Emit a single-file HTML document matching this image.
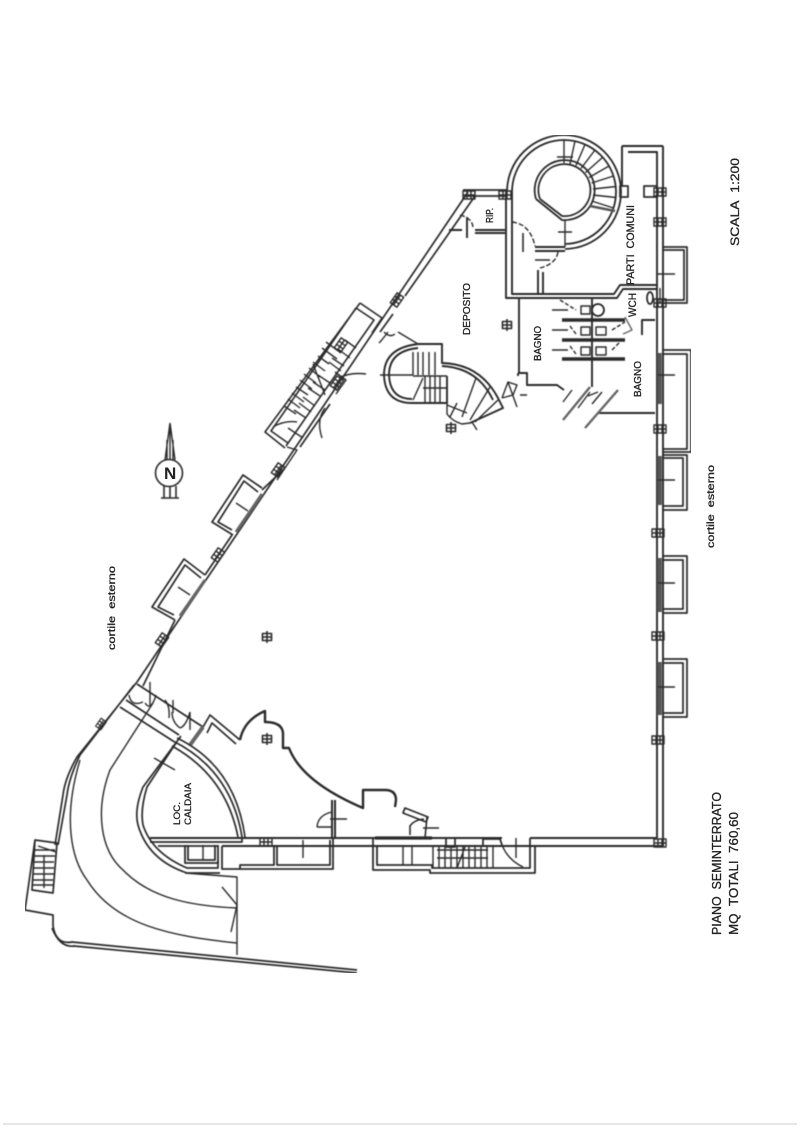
<!DOCTYPE html>
<html><head><meta charset="utf-8"><style>
html,body{margin:0;padding:0;background:#fff;width:800px;height:1131px;overflow:hidden}
svg{display:block}
text{font-family:"Liberation Sans",sans-serif;fill:#222;stroke:#222;stroke-width:.3}
</style></head><body>
<svg width="800" height="1131" viewBox="0 0 800 1131" xmlns="http://www.w3.org/2000/svg">
<defs><filter id="b" x="0" y="0" width="100%" height="100%"><feGaussianBlur stdDeviation="0.42"/></filter>
<g id="col"><path d="M-4.5-3.5H4.5V3.5H-4.5ZM0-6V6M-4.5 0H4.5"/></g>
<g id="pil"><path d="M-6-4H6V4H-6ZM-2-4V4M2-4V4M-6 0H6"/></g>
</defs>
<rect width="800" height="1131" fill="#fff"/>
<path d="M3 1124H797" stroke="#ddd" stroke-width="1.500"/>
<g filter="url(#b)" fill="none" stroke="#2b2b2b" stroke-width="1.400" stroke-linejoin="round">

<!-- right wall + bottom wall -->
<g stroke-width="1.900">
<path d="M657 288V838M663 146V846H222M657 838H530M502 838H150"/>
<path d="M622 146H663M622 146V186M628 152H657V288"/>
</g>
<!-- top diagonal wall -->
<g stroke-width="1.700">
<path d="M468 192 L137 682"/>
<path d="M475 196 L405 296M393 314 L380 332M330 404L300 447M283 470L262 490M232 535L205 575M175 620L143 686"/>
<path d="M463 190H507M465 196H507"/>
</g>
<!-- spiral stairs top -->
<g stroke-width="1.800">
<path d="M507 192A57 57 0 1 1 565 249"/>
<path d="M512 192A52 52 0 1 1 565 244"/>
<path d="M540 199A26 26 0 1 1 562 216L540 199"/>
<path d="M536 199A30 30 0 1 1 562 220L536 199"/>
</g>
<path d="M564 163V140M570 164L575 141M576 165.500L585 144.500M581 168.500L595 150M585.500 172.600L603 157M589 177.500L609 166M591.600 183L613.500 176M593 189L616 186.500M593 195L616 197.500M591.600 201L613.500 208"/>
<path d="M590 206L615 211" stroke-width="2.500" stroke="#555"/>
<path d="M557 157H573M565 220V247M558 232H572"/>
<path d="M620 186H628V197H620Z" stroke-width="1.700"/>
<path d="M644 186H657V197H644Z" stroke-width="1.700"/>
<use href="#pil" x="660" y="192"/><use href="#pil" x="660" y="222"/>
<use href="#pil" x="469" y="195"/><use href="#pil" x="505" y="195"/>
<!-- comuni partition -->
<g stroke-width="1.900">
<path d="M506 192V298H617L623 289H657"/>
<path d="M512 192V294H614L620 285H657"/>
<path d="M535 247H565M535 251H565M538 270V294M543 272V294"/>
<path d="M467 217V238M475 230H505M475 233H505M449 230H462"/>
</g>
<path d="M512 222Q530 224 535 246M558 252Q556 264 540 268M460 215Q472 218 473 227" stroke-dasharray="5 2"/>
<path d="M523 233V252M535 260H550" stroke-width="1.600"/>
<!-- bagno -->
<g stroke-width="1.900">
<path d="M519 298V373H527V385H557L564 390M518 373V376"/>
<path d="M592 298V387"/>
<path d="M598 413H655M642 335V320H655"/>
</g>
<path d="M562 320H625M562 340H625M562 359H625" stroke-width="3.400"/>
<path d="M563 420L590 387M585 428L618 390" stroke-width="2.400" stroke="#666"/>
<path d="M552 310H568M552 330H568M552 350H568M563 402L572 390M578 408L590 392M592 404L602 392M588 396L598 392"/>
<path d="M560 300L576 310M570 326L576 334M570 346L576 354M612 330L625 322M612 350L620 342" stroke-dasharray="4 2"/>
<path d="M581 306H590V314H581ZM581 327H590V335H581ZM581 347H590V355H581ZM596 327H606V335H596ZM596 347H606V355H596Z"/>
<circle cx="598" cy="310" r="6" stroke-width="1.800"/>
<ellipse cx="650" cy="298" rx="3" ry="6" stroke-width="1.800"/>
<path d="M625 317L632 330L623 334" stroke="#666"/>
<!-- balconies right -->
<g stroke-width="1.700">
<path d="M663 247H687V303H663M663 250H684V300H663"/>
<path d="M663 350H691V452H663M663 354H687V449H663"/>
<path d="M663 455H687V510H663M663 458H683V506H663"/>
<path d="M663 556H687V613H663M663 560H683V609H663"/>
<path d="M663 659H687V717H663M663 663H683V713H663"/>
</g>
<path d="M659.500 353V404M659.500 456V505M659.500 558V612M659.500 662V715" stroke="#555" stroke-width="4.500"/>
<path d="M658 274H675M658 375H675M658 480H675M658 583H675M658 687H675M660 288V303"/>
<use href="#pil" x="660" y="303"/><use href="#pil" x="660" y="429"/>
<use href="#pil" x="658" y="533"/><use href="#pil" x="658" y="636"/><use href="#pil" x="658" y="740"/><use href="#pil" x="660" y="843"/>
<!-- column symbols -->
<g stroke-width="1.600"><use href="#col" x="451" y="428"/><use href="#col" x="507" y="325"/><use href="#col" x="267" y="637"/><use href="#col" x="267" y="739"/></g>
<!-- interior stairs -->
<g stroke-width="1.900">
<path d="M418 344H442V363Q480 364 498 398L503 408L470 423"/>
<path d="M442 366Q478 368 493 400"/>
<path d="M418 344Q384 348 384 375Q385 403 412 403H447V376"/>
<path d="M418 348Q389 351 389 375Q390 399 412 399"/>
</g>
<path d="M380 375H413M413 352V375M418 352V375M423 352V375M429 352V375M435 352V375M413 376H447M425 376V402M430 376V402M435 376V402M440 376V402M423 388H447M423 378L413 400"/>
<path d="M447 402V414Q452 421 462 424L470 423M476 378L462 417M490 387L470 420M498 400L475 422M472 422L477 430M457 403L450 417M447 405L467 413"/>
<path d="M502 398L508 382L517 385L513 395L502 398M508 382L517 407M520 395H527"/>
<path d="M398 332L418 344M388 332Q382 340 379 343M384 332Q390 338 395 334"/>
<!-- left stair -->
<g stroke-width="1.600">
<path d="M360 303L382 318L372 333M356 308L374 320L286 446M360 303L265 432L285 448M356 308L271 431L288 443"/>
</g>
<path d="M326 342L341 353M322 348L337 359M345 340L356 348M338 349L350 358M332 358L344 366M329 362L341 371M318 356L329 364M313 362L325 371M309 368L320 377M304 374L316 383M318 375L330 383M313 382L325 390M308 388L320 396M300 380L312 389M296 387L308 395M292 393L304 402M303 397L315 406M299 403L311 412M288 399L300 408M284 406L296 414M294 410L306 418M313 364L325 395"/>
<path d="M339 378Q350 372 366 374M325 408Q316 420 322 438M273 427Q285 420 297 422M288 428L303 438"/>
<path d="M335 372L346 380L336 394M287 447L297 450L277 480"/>
<use href="#pil" transform="translate(337 383) rotate(-55)"/><use href="#pil" transform="translate(397 300) rotate(-55)"/>
<use href="#pil" transform="translate(278 470) rotate(-55)"/><use href="#pil" transform="translate(218 555) rotate(-55)"/><use href="#pil" transform="translate(162 640) rotate(-55)"/>
<use href="#pil" transform="translate(341 345) rotate(-55)"/>
<!-- windows on diagonal -->
<g stroke-width="1.700">
<path d="M262 488L243 475L212 522L233 535M258 492L244 481L218 522L232 530"/>
<path d="M205 575L184 559L152 607L175 620M201 578L185 565L158 607L174 615"/>
</g>
<path d="M262 494L236 532M205 580L180 616" stroke="#666" stroke-width="3"/>
<path d="M236 503L248 511M178 587L190 595"/>
<!-- north arrow -->
<circle cx="169" cy="473" r="13.500" stroke-width="1.600"/>
<path d="M170 423L165 460M170 423L175 460M170 423V460M167 440V460M173 440V460"/>
<path d="M164 486V498M176 486V498M170 486V498M161 498H179" stroke-width="1.600"/>
<!-- lower-left wall and arcs -->
<g stroke-width="1.700">
<path d="M137 684L203 727M120 707L173 741"/>
<path d="M126 700L179 735"/>
<path d="M203 727L210 715L240 740M207 733L212 723L236 744"/>
<path d="M240 740Q244 720 265 711V722Q282 722 283 733V748H289Q302 782 363 808V790H385Q396 790 396 800L395 807" stroke-width="2.400"/>
</g>
<path d="M203 727L190 745" stroke="#666" stroke-width="4"/>
<path d="M129 695Q131 707 143 702M145 703Q151 712 156 695M169 718Q170 706 165 700M180 728Q186 726 190 712M180 728Q172 722 172 712"/>
<path d="M150 682V705M173 700V713M190 712V730"/>
<path d="M405 808L428 817L426 822L403 813Z" stroke-width="1.700"/>
<path d="M427 817L425 838M423 828H439M410 835V826Q414 820 424 819" stroke-width="1.600"/>
<path d="M332 800V838M335 800V838" stroke-width="2"/>
<path d="M317 827H332M330 819H347M317 827Q318 815 332 812"/>
<!-- caldaia -->
<g stroke-width="1.700">
<path d="M173 741Q231 770 242 837"/>
<path d="M177 738Q235 766 245 837"/>
<path d="M172 746Q226 776 238 837"/>
<path d="M181 736L143 787Q134 810 138 825Q148 860 187 873H220"/>
<path d="M176 743L147 787Q140 810 143 825Q152 853 187 868H218V860"/>
<path d="M150 842H242V838M158 846H218"/>
</g>
<path d="M154 758L175 770"/>
<!-- rooms under bottom wall -->
<g stroke-width="1.800">
<path d="M185 845V863H218V845M188 845V860H215V845"/>
<path d="M222 846V869H240V865H274V846M240 869H333V838M277 846V865H330V840"/>
<path d="M373 838V870H430V873H535V845M377 847V865H432V868H530V838"/>
<path d="M483 839H500L502 845M483 839V845"/>
<path d="M446 838H455V847H446Z"/>
</g>
<path d="M375 838H432" stroke-width="3.200"/>
<path d="M203 845V860M303 840V858M403 847V865M412 847V865"/>
<path d="M437 850H488M437 858H488M433 847V868M439 847V868M445 847V868M451 847V868M457 847V868M463 847V868M469 847V868M475 847V868M481 847V868M487 847V868M493 847V868M465 847L457 868"/>
<path d="M502 845Q508 860 523 867M516 838V858"/>
<use href="#pil" x="266" y="842"/>
<!-- ramp & outer -->
<g stroke-width="1.400">
<path d="M185 873L237 877V955"/>
<path d="M153 703L110 770C95 810 100 850 123 870C150 898 190 906 237 908"/>
<path d="M80 760C62 820 72 860 87 880C115 925 170 936 237 943"/>
<path d="M222 887L237 905L231 932"/>
</g>
<g stroke-width="1.700">
<path d="M137 682L77 757Q65 778 63 795L55 845M134 685L80 755Q69 778 67 795L58 845"/>
<path d="M35 840L57 843L53 893L32 890L35 840ZM35 840L25 910L53 915V926Q56 945 72 942L357 970M52 928Q60 948 74 946L357 973"/>
</g>
<path d="M34 850H55M34 856H55M34 862H54M33 868H54M33 874H54M33 880H53M33 885H53M44 855V888M38 846L56 852"/>
<use href="#pil" transform="translate(101 724) rotate(-55) scale(.8)"/>
</g>
<g>
<text transform="translate(164 479)" font-size="17" font-weight="bold" style="stroke:none">N</text>
<text transform="translate(470 335) rotate(-90)" font-size="10" textLength="52" lengthAdjust="spacingAndGlyphs">DEPOSITO</text>
<text transform="translate(493 223) rotate(-90)" font-size="10" textLength="15" lengthAdjust="spacingAndGlyphs">RIP.</text>
<text transform="translate(541 361) rotate(-90)" font-size="10" textLength="35" lengthAdjust="spacingAndGlyphs">BAGNO</text>
<text transform="translate(641 397) rotate(-90)" font-size="10" textLength="36" lengthAdjust="spacingAndGlyphs">BAGNO</text>
<text transform="translate(636 317) rotate(-90)" font-size="11" textLength="24" lengthAdjust="spacingAndGlyphs">WCH</text>
<text transform="translate(634 285) rotate(-90)" font-size="11" textLength="80" lengthAdjust="spacingAndGlyphs">PARTI&#160;&#160;COMUNI</text>
<text transform="translate(115 650) rotate(-90)" font-size="10" textLength="84" lengthAdjust="spacingAndGlyphs">cortile&#160;&#160;esterno</text>
<text transform="translate(714 548) rotate(-90)" font-size="10" textLength="83" lengthAdjust="spacingAndGlyphs">cortile&#160;&#160;esterno</text>
<text transform="translate(180 825) rotate(-90)" font-size="9" textLength="23" lengthAdjust="spacingAndGlyphs">LOC.</text>
<text transform="translate(191 825) rotate(-90)" font-size="9" textLength="42" lengthAdjust="spacingAndGlyphs">CALDAIA</text>
<text transform="translate(739 246) rotate(-90)" font-size="12" textLength="88" lengthAdjust="spacingAndGlyphs">SCALA&#160;&#160;1:200</text>
<text transform="translate(721 935) rotate(-90)" font-size="13" textLength="143" lengthAdjust="spacingAndGlyphs">PIANO&#160;&#160;SEMINTERRATO</text>
<text transform="translate(738 935) rotate(-90)" font-size="13" textLength="123" lengthAdjust="spacingAndGlyphs">MQ&#160;&#160;TOTALI&#160;&#160;760,60</text>
</g>
</svg>
</body></html>
